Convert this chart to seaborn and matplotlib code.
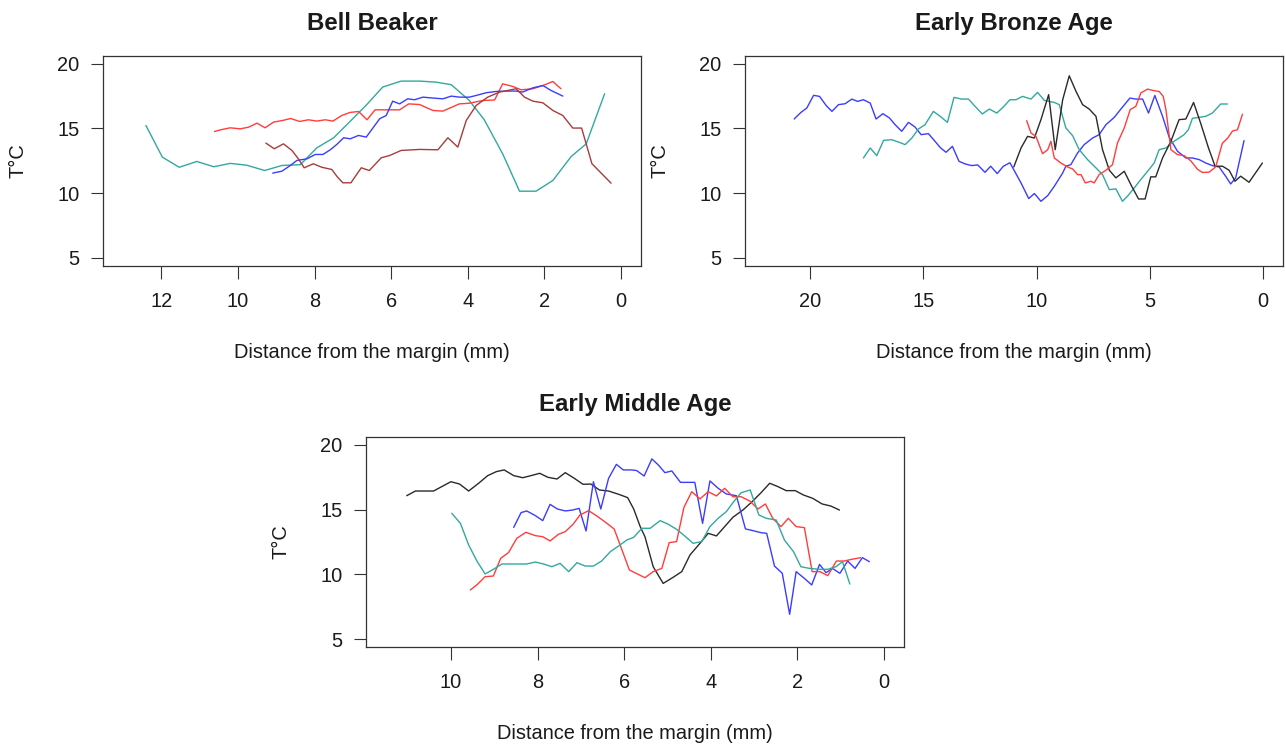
import matplotlib
matplotlib.use("Agg")
import matplotlib.pyplot as plt
import pandas as pd
import seaborn as sns

# ---------------- Bell Beaker ----------------
bb_teal_x = [12.40, 11.97, 11.53, 11.07, 10.63, 10.20, 9.77, 9.30, 8.85, 8.37, 7.94, 7.50, 7.07, 6.65,
             6.22, 5.74, 5.26, 4.83, 4.43, 3.96, 3.57, 3.09, 2.65, 2.22, 1.78, 1.30, 0.91, 0.43]
bb_teal_y = [15.23, 12.78, 12.00, 12.45, 12.04, 12.30, 12.16, 11.75, 12.14, 12.20, 13.50, 14.28, 15.55, 16.80,
             18.20, 18.66, 18.66, 18.58, 18.38, 17.16, 15.67, 13.04, 10.15, 10.15, 10.98, 12.84, 13.81, 17.68]

bb_red_x = [10.61, 10.41, 10.20, 9.94, 9.72, 9.50, 9.29, 9.07, 8.83, 8.62, 8.39, 8.16, 7.94, 7.72, 7.52,
            7.29, 7.07, 6.85, 6.63, 6.42, 6.13, 5.78, 5.54, 5.26, 4.91, 4.65, 4.22, 3.96, 3.61, 3.30,
            3.09, 2.83, 2.61, 2.30, 2.04, 1.78, 1.57]
bb_red_y = [14.77, 14.92, 15.05, 14.97, 15.10, 15.41, 15.05, 15.49, 15.62, 15.77, 15.54, 15.67, 15.57, 15.67, 15.57,
            16.00, 16.24, 16.31, 15.67, 16.44, 16.44, 16.44, 16.90, 16.85, 16.39, 16.34, 16.90, 16.95, 17.16, 17.20,
            18.45, 18.25, 17.99, 18.07, 18.32, 18.63, 18.07]

bb_blue_x = [9.09, 8.85, 8.63, 8.46, 8.20, 7.98, 7.78, 7.59, 7.42, 7.24, 7.07, 6.85, 6.65, 6.46, 6.30,
             6.13, 5.96, 5.78, 5.57, 5.39, 5.17, 4.91, 4.65, 4.43, 4.22, 3.96, 3.78, 3.52, 3.26, 3.00,
             2.74, 2.57, 2.30, 2.04, 1.83, 1.52]
bb_blue_y = [11.55, 11.70, 12.14, 12.53, 12.65, 12.99, 12.99, 13.35, 13.76, 14.28, 14.20, 14.46, 14.33, 15.10, 15.75,
             16.00, 17.11, 16.90, 17.29, 17.22, 17.42, 17.35, 17.29, 17.50, 17.42, 17.42, 17.55, 17.76, 17.86, 17.89,
             17.89, 17.81, 18.14, 18.32, 17.94, 17.50]

bb_brown_x = [9.27, 9.05, 8.81, 8.59, 8.42, 8.27, 8.03, 7.81, 7.55, 7.40, 7.26, 7.05, 6.78, 6.57, 6.26,
              6.04, 5.74, 5.26, 4.78, 4.52, 4.26, 4.04, 3.78, 3.48, 3.17, 2.74, 2.52, 2.30, 2.04, 1.78,
              1.52, 1.26, 1.03, 0.76, 0.26]
bb_brown_y = [13.87, 13.43, 13.81, 13.30, 12.65, 11.96, 12.27, 12.00, 11.83, 11.24, 10.80, 10.80, 11.96, 11.75, 12.73,
              12.91, 13.30, 13.38, 13.35, 14.28, 13.56, 15.62, 16.78, 17.42, 17.81, 18.07, 17.42, 17.11, 16.98, 16.39,
              16.00, 15.03, 15.03, 12.27, 10.77]

# ---------------- Early Bronze Age ----------------
eba_blue_x = [20.71, 20.41, 20.15, 19.85, 19.59, 19.29, 19.04, 18.75, 18.46, 18.16, 17.91, 17.65, 17.35, 17.09,
              16.79, 16.50, 16.25, 15.96, 15.66, 15.37, 15.10, 14.78, 14.49, 14.24, 14.00, 13.72, 13.43, 13.16,
              12.87, 12.60, 12.28, 12.03, 11.74, 11.47, 11.18, 10.69, 10.35, 10.10, 9.81, 9.51, 9.22, 8.85,
              8.71, 8.49, 8.19, 7.90, 7.53, 7.24, 6.94, 6.57, 6.28, 5.88, 5.62, 5.32, 5.06, 4.78, 4.44,
              4.15, 3.78, 3.41, 3.12, 2.82, 2.53, 2.24, 1.94, 1.65, 1.43, 1.21, 0.84]
eba_blue_y = [15.73, 16.24, 16.58, 17.56, 17.48, 16.76, 16.32, 16.84, 16.91, 17.27, 17.09, 17.22, 16.96, 15.73,
              16.14, 15.81, 15.29, 14.78, 15.47, 15.11, 14.52, 14.60, 14.01, 13.49, 13.16, 13.62, 12.46, 12.26,
              12.13, 12.18, 11.61, 12.08, 11.51, 12.08, 12.35, 10.79, 9.58, 9.97, 9.37, 9.81, 10.53, 11.56,
              12.08, 12.20, 13.11, 13.75, 14.26, 14.52, 15.29, 15.86, 16.50, 17.35, 17.27, 17.27, 16.19, 17.55, 15.94,
              14.34, 13.24, 12.72, 12.72, 12.59, 12.33, 12.13, 12.02, 11.30, 10.71, 11.18, 14.06]

eba_teal_x = [17.65, 17.35, 17.06, 16.76, 16.40, 16.10, 15.81, 15.51, 15.22, 14.93, 14.56, 14.26, 13.94, 13.65,
              13.31, 13.01, 12.72, 12.40, 12.09, 11.76, 11.47, 11.18, 10.91, 10.62, 10.25, 9.96, 9.66, 9.22,
              9.00, 8.71, 8.41, 8.12, 7.75, 7.38, 7.09, 6.79, 6.50, 6.21, 5.99, 5.69, 5.40, 5.10, 4.81,
              4.59, 4.29, 4.00, 3.71, 3.49, 3.30, 3.12, 2.82, 2.53, 2.24, 1.87, 1.57]
eba_teal_y = [12.72, 13.49, 12.90, 14.08, 14.13, 13.95, 13.75, 14.26, 14.96, 15.29, 16.32, 15.94, 15.47, 17.40,
              17.27, 17.27, 16.71, 16.12, 16.50, 16.19, 16.66, 17.22, 17.22, 17.48, 17.27, 17.79, 17.17, 17.01,
              16.84, 15.04, 14.44, 13.36, 12.59, 11.95, 11.43, 10.27, 10.33, 9.37, 9.76, 10.40, 11.05, 11.69, 12.33,
              13.36, 13.49, 13.93, 14.26, 14.52, 14.90, 15.78, 15.86, 15.94, 16.19, 16.89, 16.89]

eba_black_x = [11.01, 10.69, 10.40, 10.10, 9.81, 9.47, 9.18, 8.85, 8.56, 8.26, 7.97, 7.68, 7.38, 7.09,
               6.79, 6.50, 6.13, 5.84, 5.50, 5.21, 4.96, 4.74, 4.44, 4.07, 3.71, 3.41, 3.07, 2.75,
               2.41, 2.12, 1.79, 1.50, 1.24, 0.99, 0.62, 0.03]
eba_black_y = [12.02, 13.49, 14.39, 14.26, 15.68, 17.61, 13.36, 17.22, 19.07, 17.86, 16.84, 16.50, 15.94, 13.36,
               11.77, 11.18, 11.69, 10.66, 9.55, 9.55, 11.26, 11.26, 12.72, 14.01, 15.68, 15.73, 17.01, 15.37,
               13.49, 12.08, 12.08, 11.77, 10.92, 11.31, 10.84, 12.33]

eba_red_x = [10.44, 10.25, 10.03, 9.74, 9.51, 9.37, 9.22, 8.93, 8.63, 8.41, 8.19, 8.04, 7.85, 7.60, 7.46,
             7.24, 6.94, 6.65, 6.43, 6.13, 5.87, 5.62, 5.40, 5.10, 4.81, 4.59, 4.41, 4.29, 4.07, 3.78,
             3.49, 3.19, 2.90, 2.68, 2.38, 2.09, 1.80, 1.57, 1.35, 1.13, 0.91]
eba_red_y = [15.60, 14.65, 14.39, 13.05, 13.36, 14.01, 12.72, 12.33, 12.02, 11.87, 11.43, 11.43, 10.79, 10.92, 10.79,
             11.43, 11.77, 12.20, 13.88, 15.04, 16.45, 16.71, 17.74, 18.04, 17.92, 17.86, 17.48, 16.45, 13.36, 12.98,
             12.90, 12.50, 11.85, 11.60, 11.62, 12.04, 13.85, 14.24, 14.80, 14.90, 16.10]

# ---------------- Early Middle Age ----------------
ema_black_x = [11.02, 10.82, 10.40, 10.00, 9.80, 9.59, 9.36, 9.15, 8.95, 8.77, 8.55, 8.34, 8.15, 7.95, 7.76,
               7.55, 7.36, 7.15, 6.95, 6.77, 6.57, 6.36, 6.13, 5.92, 5.78, 5.63, 5.52, 5.33, 5.10, 4.87,
               4.67, 4.48, 4.25, 4.06, 3.87, 3.68, 3.49, 3.26, 3.07, 2.84, 2.64, 2.45, 2.26, 2.05, 1.86,
               1.65, 1.43, 1.23, 1.03]
ema_black_y = [16.08, 16.44, 16.44, 17.16, 16.98, 16.44, 17.04, 17.63, 17.94, 18.07, 17.63, 17.47, 17.63, 17.81, 17.50,
               17.37, 17.86, 17.42, 16.96, 16.98, 16.52, 16.44, 16.19, 15.93, 15.05, 13.69, 12.91, 10.59, 9.30, 9.77,
               10.21, 11.50, 12.40, 13.17, 12.97, 13.69, 14.41, 14.97, 15.54, 16.31, 17.04, 16.78, 16.47, 16.47, 16.13,
               15.88, 15.44, 15.28, 14.97]

ema_blue_x = [8.55, 8.38, 8.25, 8.05, 7.88, 7.71, 7.54, 7.36, 7.19, 7.04, 6.88, 6.71, 6.54, 6.36, 6.18,
              6.02, 5.82, 5.71, 5.54, 5.36, 5.21, 5.06, 4.90, 4.70, 4.56, 4.37, 4.19, 4.02, 3.83, 3.64,
              3.41, 3.20, 3.03, 2.84, 2.71, 2.53, 2.35, 2.18, 2.03, 1.84, 1.67, 1.49, 1.34, 1.19, 1.02,
              0.84, 0.67, 0.50, 0.34]
ema_blue_y = [13.63, 14.77, 14.90, 14.54, 14.15, 15.41, 15.05, 14.90, 14.97, 15.10, 13.35, 17.16, 15.05, 17.42, 18.50,
              18.07, 18.07, 18.02, 17.60, 18.92, 18.45, 17.86, 17.99, 17.11, 17.11, 17.11, 13.94, 17.22, 16.65, 16.21,
              16.08, 13.51, 13.38, 13.22, 13.17, 10.64, 10.08, 6.91, 10.21, 9.69, 9.18, 10.77, 10.13, 10.46, 10.08,
              11.03, 10.46, 11.29, 10.98]

ema_red_x = [9.55, 9.38, 9.21, 9.02, 8.85, 8.67, 8.48, 8.27, 8.05, 7.88, 7.71, 7.52, 7.36, 7.18, 7.02,
             6.82, 6.63, 6.42, 6.23, 6.05, 5.88, 5.52, 5.33, 5.13, 4.96, 4.79, 4.62, 4.44, 4.25, 4.06,
             3.87, 3.68, 3.49, 3.30, 3.10, 2.91, 2.74, 2.57, 2.38, 2.21, 2.03, 1.84, 1.66, 1.48, 1.30,
             1.10, 0.92, 0.75, 0.54]
ema_red_y = [8.79, 9.25, 9.82, 9.87, 11.24, 11.68, 12.78, 13.25, 12.99, 12.91, 12.58, 13.09, 13.30, 13.87, 14.59,
             14.92, 14.51, 14.00, 13.50, 11.88, 10.34, 9.74, 10.21, 10.46, 12.45, 12.53, 15.18, 16.39, 15.83, 16.39,
             16.06, 16.65, 16.00, 16.00, 15.67, 15.05, 15.44, 14.33, 13.69, 14.33, 13.69, 13.61, 10.21, 10.21, 9.90,
             11.03, 11.03, 11.16, 11.29]

ema_teal_x = [9.98, 9.78, 9.59, 9.40, 9.21, 9.02, 8.82, 8.63, 8.25, 8.05, 7.86, 7.67, 7.48, 7.28, 7.09,
              6.90, 6.71, 6.52, 6.32, 6.13, 5.94, 5.78, 5.59, 5.40, 5.17, 4.98, 4.79, 4.60, 4.41, 4.21,
              4.02, 3.83, 3.64, 3.49, 3.30, 3.09, 2.89, 2.72, 2.49, 2.30, 2.09, 1.92, 1.72, 1.49, 1.30,
              1.11, 0.96, 0.79]
ema_teal_y = [14.72, 13.94, 12.27, 11.03, 10.03, 10.39, 10.80, 10.80, 10.80, 10.95, 10.80, 10.59, 10.85, 10.21, 10.90,
              10.64, 10.64, 11.03, 11.75, 12.19, 12.65, 12.86, 13.56, 13.56, 14.15, 13.87, 13.48, 12.96, 12.40, 12.53,
              13.69, 14.33, 14.85, 15.54, 16.31, 16.52, 14.59, 14.33, 14.20, 12.65, 11.75, 10.59, 10.46, 10.39, 10.39,
              10.59, 10.98, 9.25]

COLORS = {"teal": "#33a89e", "red": "#ff3d3d", "blue": "#3c3cff",
          "brown": "#a83c3c", "black": "#2a2a2a"}

panels = [
    ("Bell Beaker", (103, 56), (13.52, -0.52), [12, 10, 8, 6, 4, 2, 0],
     [("teal", bb_teal_x, bb_teal_y), ("red", bb_red_x, bb_red_y),
      ("blue", bb_blue_x, bb_blue_y), ("brown", bb_brown_x, bb_brown_y)]),
    ("Early Bronze Age", (745, 56), (22.88, -0.88), [20, 15, 10, 5, 0],
     [("blue", eba_blue_x, eba_blue_y), ("teal", eba_teal_x, eba_teal_y),
      ("black", eba_black_x, eba_black_y), ("red", eba_red_x, eba_red_y)]),
    ("Early Middle Age", (366, 437.2), (11.96, -0.46), [10, 8, 6, 4, 2, 0],
     [("black", ema_black_x, ema_black_y), ("blue", ema_blue_x, ema_blue_y),
      ("red", ema_red_x, ema_red_y), ("teal", ema_teal_x, ema_teal_y)]),
]

sns.set_theme(style="ticks")
plt.rcParams["font.family"] = ["Liberation Sans", "DejaVu Sans"]

W, H = 1286, 746
AX_W, AX_H = 538, 209.6
fig = plt.figure(figsize=(W / 100, H / 100), dpi=100)
fig.patch.set_facecolor("white")

TEXT = "#1a1a1a"
for title, (left, top), xlim, xticks, series in panels:
    ax = fig.add_axes([left / W, 1 - (top + AX_H) / H, AX_W / W, AX_H / H])
    frames = [pd.DataFrame({"dist": x, "temp": y, "sample": name}) for name, x, y in series]
    df = pd.concat(frames, ignore_index=True)
    sns.lineplot(data=df, x="dist", y="temp", hue="sample", palette=COLORS,
                 estimator=None, sort=False, legend=False, linewidth=1.0, ax=ax)

    ax.set_xlim(*xlim)
    ax.set_ylim(4.4, 20.6)
    ax.set_xticks(xticks)
    ax.set_yticks([5, 10, 15, 20])
    for sp in ax.spines.values():
        sp.set_visible(True)
        sp.set_color("#333333")
        sp.set_linewidth(0.9)
    ax.tick_params(axis="both", direction="out", length=9, width=0.8,
                   color="#333333", labelsize=14.4, labelcolor=TEXT)
    ax.tick_params(axis="x", pad=10)
    ax.tick_params(axis="y", pad=8)

    ax.set_xlabel("Distance from the margin (mm)", fontsize=14.4, color=TEXT, va="center")
    ax.xaxis.set_label_coords(0.5, -86.5 / AX_H)
    ax.set_ylabel("T°C", fontsize=14.4, color=TEXT, va="center")
    ax.yaxis.set_label_coords(-85 / AX_W, 0.5)
    ax.set_title(title, fontsize=17.3, fontweight="bold", color=TEXT,
                 y=1 + 24.5 / AX_H, va="center")

fig.savefig("out.png", dpi=100, facecolor="white")
